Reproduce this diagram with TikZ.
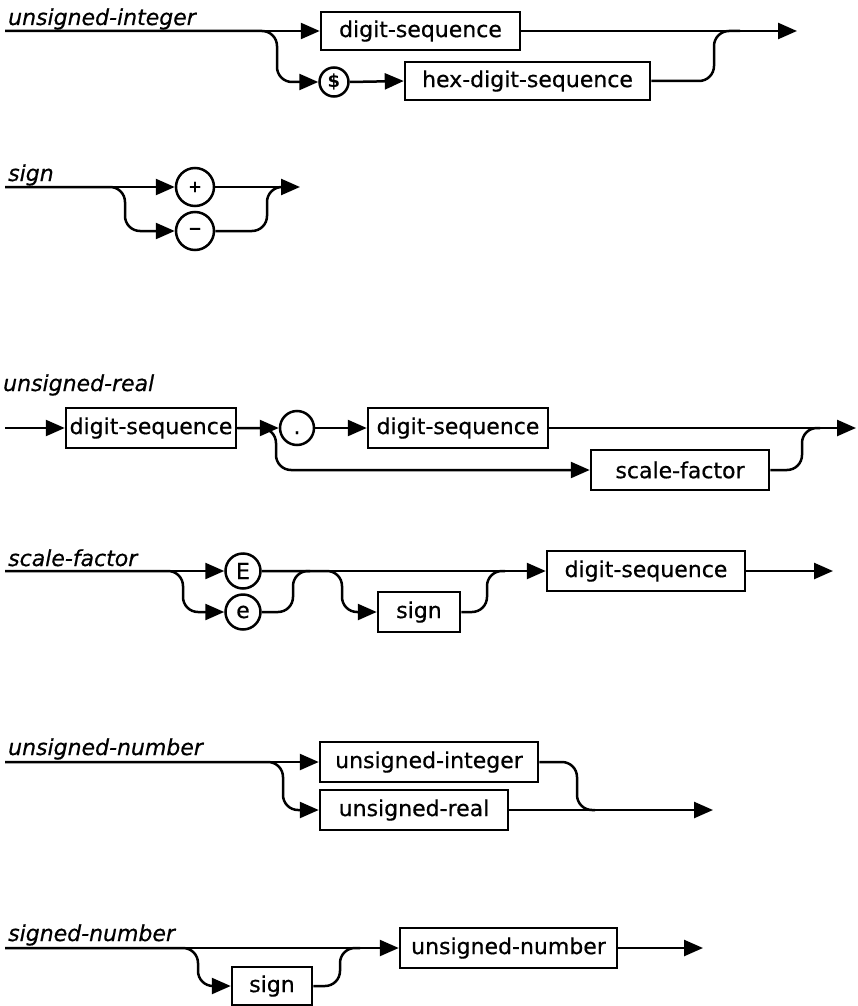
\documentclass[tikz,border=0pt]{standalone}
\usepackage{fontspec}
\setmainfont{DejaVu Sans}
\newfontfamily\heavyfont{DejaVu Sans}[FakeBold=0.6]
\newfontfamily\heavyital{DejaVu Sans Oblique}[FakeBold=0.6]
\usetikzlibrary{arrows.meta}
\begin{document}
\begin{tikzpicture}[x=1pt,y=-1pt,
  lw/.style={line width=2.5pt},
  rail/.style={lw, rounded corners=15pt},
  arr/.style={lw, -{Triangle[length=19pt,width=16pt]}},
  rarr/.style={arr, rounded corners=15pt},
  box/.style={draw, lw, minimum height=38pt, inner sep=0pt, font=\fontsize{22}{26}\heavyfont},
  term/.style={draw, lw, circle, inner sep=0pt, font=\fontsize{22}{26}\heavyfont},
  title/.style={anchor=base west, inner sep=0pt, font=\fontsize{22}{26}\heavyital}]
\useasboundingbox (0,0) rectangle (857,1006);

% ---------- unsigned-integer ----------
\node[title] (t1) at (8,25) {unsigned-integer};
\coordinate (s1) at (5,31);
\coordinate (e1) at (797,31);
\node[box, minimum width=199pt] (ds1) at (420.5,31) {digit-sequence};
\node[term, minimum size=29pt, font=\fontsize{18}{20}\selectfont\bfseries] (dollar) at (334,82) {\$};
\node[box, minimum width=245pt] (hex) at (527.5,81) {hex-digit-sequence};
\draw[arr] (s1) -- (ds1.west);
\draw[rarr] (s1) -- (277,31) |- (dollar.west);
\draw[arr] (dollar.east) -- (hex.west);
\draw[rail] (hex.east) -| (714,31) -- (740,31);
\draw[arr] (ds1.east) -- (e1);

% ---------- sign ----------
\node[title] (t2) at (8,181) {sign};
\coordinate (s2) at (5,187);
\coordinate (e2) at (300,187);
\node[term, minimum size=38pt] (plus) at (195,187) {\fontsize{16}{18}\selectfont\bfseries +};
\node[term, minimum size=38pt] (minus) at (195,231) {\fontsize{16}{18}\selectfont\bfseries −};
\draw[arr] (s2) -- (plus.west);
\draw[rarr] (s2) -- (125,187) |- (minus.west);
\draw[rail] (minus.east) -| (267,187) -- (285,187);
\draw[arr] (plus.east) -- (e2);

% ---------- unsigned-real ----------
\node[title] (t3) at (3,391) {unsigned-real};
\coordinate (s3) at (5,428);
\coordinate (e3) at (856,428);
\node[box, minimum width=170pt, minimum height=40pt] (urds1) at (151,428) {digit-sequence};
\node[term, minimum size=34pt] (dot) at (297,428) {\vphantom{x}.};
\node[box, minimum width=180pt, minimum height=40pt] (urds2) at (458,428) {digit-sequence};
\node[box, minimum width=178pt, minimum height=40pt] (sf) at (680,470) {scale-factor};
\draw[arr] (s3) -- (urds1.west);
\draw[arr] (urds1.east) -- (dot.west);
\draw[arr] (dot.east) -- (urds2.west);
\draw[rarr] (urds1.east) -| (276,470) -- (sf.west);
\draw[rail] (sf.east) -| (802,428) -- (820,428);
\draw[arr] (urds2.east) -- (e3);

% ---------- scale-factor ----------
\node[title] (t4) at (8,566) {scale-factor};
\coordinate (s4) at (5,571);
\coordinate (e4) at (833,571);
\node[term, minimum size=35pt] (E) at (243,571) {E};
\node[term, minimum size=35pt] (e) at (243,612) {e};
\node[box, minimum width=82pt, minimum height=40pt] (sfsign) at (419,612) {sign};
\node[box, minimum width=198pt, minimum height=40pt] (sfds) at (646,571) {digit-sequence};
\draw[arr] (s4) -- (E.west);
\draw[rarr] (s4) -- (183,571) |- (e.west);
\draw[rail] (e.east) -| (293,571) -- (310,571);
\draw[rarr] (E.east) -| (342,612) -- (sfsign.west);
\draw[rail] (sfsign.east) -| (487,571) -- (505,571);
\draw[arr] (E.east) -- (sfds.west);
\draw[arr] (sfds.east) -- (e4);

% ---------- unsigned-number ----------
\node[title] (t5) at (8,755) {unsigned-number};
\coordinate (s5) at (5,762);
\coordinate (e5) at (713,810);
\node[box, minimum width=218pt, minimum height=40pt] (ui) at (429,762) {unsigned-integer};
\node[box, minimum width=188pt, minimum height=40pt] (ur) at (414,810) {unsigned-real};
\draw[arr] (s5) -- (ui.west);
\draw[rarr] (s5) -- (283,762) |- (ur.west);
\draw[rail] (ui.east) -| (577,810) -- (595,810);
\draw[arr] (ur.east) -- (e5);

% ---------- signed-number ----------
\node[title] (t6) at (8,941) {signed-number};
\coordinate (s6) at (5,948);
\coordinate (e6) at (703,948);
\node[box, minimum width=80pt, minimum height=38pt] (snsign) at (272,986) {sign};
\node[box, minimum width=217pt, minimum height=40pt] (un) at (508.5,948) {unsigned-number};
\draw[arr] (s6) -- (un.west);
\draw[rarr] (s6) -- (198,948) |- (snsign.west);
\draw[rail] (snsign.east) -| (340,948) -- (360,948);
\draw[arr] (un.east) -- (e6);
\end{tikzpicture}
\end{document}
